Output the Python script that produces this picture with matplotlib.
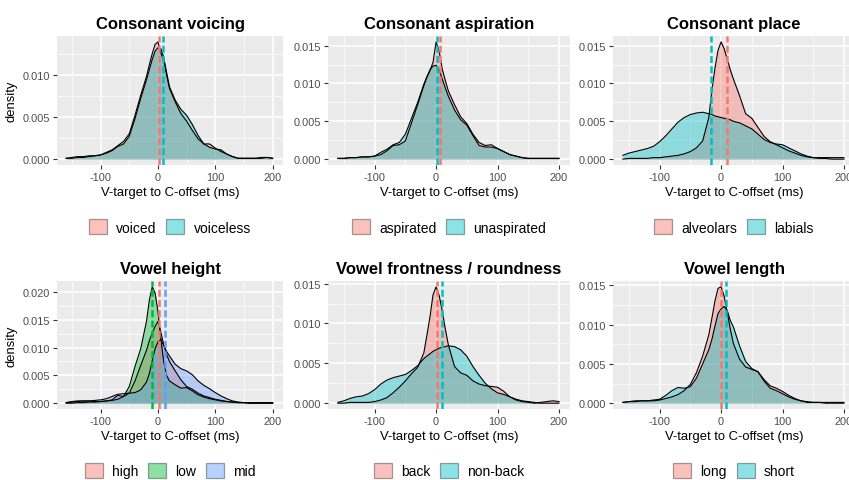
import matplotlib
matplotlib.use('Agg')
from matplotlib import pyplot as plt
from matplotlib.patches import Patch

plt.rcParams['font.family'] = ['Liberation Sans', 'DejaVu Sans']

offset_ms = [-160, -150, -140, -130, -120, -110, -100, -90, -80, -70, -60, -50, -40, -30, -20, -15, -10, -5,
             0, 5, 10, 15, 20, 30, 40, 50, 60, 70, 80, 90, 100, 110, 120, 130, 140, 150, 160, 170, 180, 190, 200]

# Consonant voicing
voiced = [0.0001, 0.0002, 0.0003, 0.0003, 0.0004, 0.0004, 0.0005, 0.0008, 0.0011, 0.0016, 0.0021, 0.0030, 0.0052,
          0.0076, 0.0098, 0.0112, 0.0125, 0.0136, 0.0139, 0.0126, 0.0117, 0.0100, 0.0084, 0.0068, 0.0054, 0.0045,
          0.0034, 0.0024, 0.0018, 0.0018, 0.0013, 0.0009, 0.0006, 0.0003, 0.0001, 0.0001, 0.0001, 0.0001, 0.0002,
          0.0002, 0.0001]
voiceless = [0.0001, 0.0001, 0.0002, 0.0002, 0.0003, 0.0004, 0.0005, 0.0007, 0.0010, 0.0015, 0.0018, 0.0027, 0.0048,
             0.0072, 0.0094, 0.0106, 0.0118, 0.0128, 0.0132, 0.0131, 0.0121, 0.0103, 0.0086, 0.0070, 0.0059, 0.0052,
             0.0041, 0.0028, 0.0018, 0.0014, 0.0012, 0.0011, 0.0006, 0.0003, 0.0001, 0.0001, 0.0001, 0.0001, 0.0001,
             0.0002, 0.0001]
# Consonant aspiration
aspirated = [0.0001, 0.0001, 0.0002, 0.0002, 0.0003, 0.0003, 0.0004, 0.0006, 0.0011, 0.0018, 0.0019, 0.0024, 0.0048,
             0.0072, 0.0097, 0.0108, 0.0117, 0.0128, 0.0155, 0.0143, 0.0119, 0.0104, 0.0090, 0.0072, 0.0056, 0.0047,
             0.0033, 0.0022, 0.0018, 0.0019, 0.0014, 0.0010, 0.0006, 0.0004, 0.0002, 0.0001, 0.0001, 0.0001, 0.0001,
             0.0001, 0.0001]
unaspirated = [0.0001, 0.0001, 0.0002, 0.0002, 0.0003, 0.0003, 0.0004, 0.0009, 0.0013, 0.0019, 0.0022, 0.0033, 0.0054,
               0.0075, 0.0099, 0.0109, 0.0118, 0.0123, 0.0124, 0.0118, 0.0106, 0.0094, 0.0083, 0.0065, 0.0052, 0.0045,
               0.0031, 0.0018, 0.0016, 0.0016, 0.0014, 0.0010, 0.0006, 0.0004, 0.0002, 0.0001, 0.0001, 0.0001, 0.0001,
               0.0001, 0.0001]
# Consonant place
alveolars = [0.0000, 0.0001, 0.0001, 0.0001, 0.0001, 0.0002, 0.0002, 0.0003, 0.0004, 0.0005, 0.0007, 0.0010, 0.0015,
             0.0024, 0.0055, 0.0091, 0.0120, 0.0144, 0.0155, 0.0146, 0.0132, 0.0118, 0.0106, 0.0084, 0.0060, 0.0054,
             0.0042, 0.0030, 0.0023, 0.0019, 0.0015, 0.0011, 0.0008, 0.0005, 0.0003, 0.0002, 0.0002, 0.0002, 0.0002,
             0.0002, 0.0002]
labials = [0.0005, 0.0008, 0.0010, 0.0012, 0.0014, 0.0017, 0.0023, 0.0031, 0.0040, 0.0049, 0.0055, 0.0059, 0.0061,
           0.0062, 0.0060, 0.0059, 0.0057, 0.0056, 0.0055, 0.0054, 0.0053, 0.0052, 0.0050, 0.0048, 0.0044, 0.0040,
           0.0033, 0.0026, 0.0022, 0.0020, 0.0019, 0.0015, 0.0011, 0.0007, 0.0004, 0.0002, 0.0001, 0.0001, 0.0000,
           0.0000, 0.0000]
# Vowel height
high = [0.0001, 0.0003, 0.0004, 0.0004, 0.0004, 0.0003, 0.0003, 0.0004, 0.0006, 0.0014, 0.0012, 0.0018, 0.0040,
        0.0068, 0.0095, 0.0112, 0.0126, 0.0138, 0.0147, 0.0128, 0.0105, 0.0088, 0.0075, 0.0058, 0.0042, 0.0030,
        0.0025, 0.0018, 0.0013, 0.0010, 0.0007, 0.0005, 0.0003, 0.0002, 0.0001, 0.0001, 0.0000, 0.0000, 0.0000,
        0.0000, 0.0000]
low = [0.0000, 0.0000, 0.0001, 0.0001, 0.0002, 0.0002, 0.0003, 0.0004, 0.0005, 0.0007, 0.0012, 0.0030, 0.0066,
       0.0098, 0.0147, 0.0185, 0.0209, 0.0198, 0.0165, 0.0115, 0.0075, 0.0050, 0.0040, 0.0033, 0.0027, 0.0028,
       0.0022, 0.0015, 0.0011, 0.0008, 0.0006, 0.0004, 0.0003, 0.0002, 0.0001, 0.0001, 0.0000, 0.0000, 0.0000,
       0.0000, 0.0000]
mid = [0.0001, 0.0002, 0.0003, 0.0004, 0.0004, 0.0005, 0.0006, 0.0008, 0.0012, 0.0016, 0.0017, 0.0018, 0.0019,
       0.0024, 0.0038, 0.0053, 0.0076, 0.0098, 0.0110, 0.0114, 0.0104, 0.0093, 0.0085, 0.0070, 0.0062, 0.0058,
       0.0051, 0.0040, 0.0032, 0.0026, 0.0019, 0.0013, 0.0008, 0.0004, 0.0002, 0.0001, 0.0001, 0.0001, 0.0001,
       0.0001, 0.0001]
# Vowel frontness / roundness
back = [0.0000, 0.0000, 0.0001, 0.0001, 0.0001, 0.0001, 0.0002, 0.0004, 0.0007, 0.0013, 0.0020, 0.0028, 0.0037,
        0.0045, 0.0063, 0.0085, 0.0108, 0.0136, 0.0146, 0.0135, 0.0116, 0.0093, 0.0073, 0.0046, 0.0038, 0.0035,
        0.0028, 0.0024, 0.0022, 0.0021, 0.0020, 0.0015, 0.0008, 0.0004, 0.0002, 0.0001, 0.0000, 0.0001, 0.0002,
        0.0003, 0.0002]
non_back = [0.0001, 0.0003, 0.0006, 0.0008, 0.0009, 0.0012, 0.0017, 0.0024, 0.0029, 0.0032, 0.0034, 0.0036, 0.0041,
            0.0047, 0.0056, 0.0059, 0.0062, 0.0065, 0.0067, 0.0069, 0.0070, 0.0071, 0.0072, 0.0071, 0.0067, 0.0059,
            0.0046, 0.0035, 0.0025, 0.0018, 0.0013, 0.0011, 0.0008, 0.0005, 0.0003, 0.0002, 0.0001, 0.0000, 0.0000,
            0.0000, 0.0000]
# Vowel length
long_v = [0.0001, 0.0002, 0.0002, 0.0003, 0.0003, 0.0003, 0.0004, 0.0006, 0.0008, 0.0011, 0.0016, 0.0024, 0.0039,
          0.0060, 0.0087, 0.0108, 0.0130, 0.0146, 0.0148, 0.0136, 0.0115, 0.0094, 0.0076, 0.0056, 0.0046, 0.0043,
          0.0040, 0.0030, 0.0022, 0.0019, 0.0015, 0.0010, 0.0006, 0.0003, 0.0002, 0.0001, 0.0001, 0.0001, 0.0001,
          0.0001, 0.0001]
short_v = [0.0001, 0.0002, 0.0003, 0.0003, 0.0003, 0.0004, 0.0005, 0.0010, 0.0016, 0.0020, 0.0019, 0.0021, 0.0032,
           0.0050, 0.0068, 0.0081, 0.0098, 0.0114, 0.0120, 0.0123, 0.0118, 0.0105, 0.0097, 0.0073, 0.0053, 0.0044,
           0.0040, 0.0028, 0.0019, 0.0016, 0.0012, 0.0008, 0.0005, 0.0003, 0.0001, 0.0001, 0.0001, 0.0000, 0.0000,
           0.0000, 0.0000]

# group means (dashed lines)
means_voicing = [2, 8]
means_aspiration = [6, 2]
means_place = [10, -17]
means_height = [1, -10, 13]
means_front = [2, 9]
means_length = [0, 8]

titles = ['Consonant voicing', 'Consonant aspiration', 'Consonant place',
          'Vowel height', 'Vowel frontness / roundness', 'Vowel length']
group_labels = [['voiced', 'voiceless'], ['aspirated', 'unaspirated'], ['alveolars', 'labials'],
                ['high', 'low', 'mid'], ['back', 'non-back'], ['long', 'short']]
series = [[voiced, voiceless], [aspirated, unaspirated], [alveolars, labials],
          [high, low, mid], [back, non_back], [long_v, short_v]]
means = [means_voicing, means_aspiration, means_place, means_height, means_front, means_length]

two_cols = ['#F8766D', '#00BFC4']
three_cols = ['#F8766D', '#00BA38', '#619CFF']

W, H = 849, 481
fig = plt.figure(figsize=(W / 100, H / 100), dpi=100)

# panel boxes in pixels: left, right, top, bottom (third column runs past the edge, as in the original)
col_px = [(57, 283), (328, 570), (613, 855)]
row_px = [(37, 166), (282, 410)]

for i in range(6):
    r, c = divmod(i, 3)
    l, rr = col_px[c]
    t, b = row_px[r]
    ax = fig.add_axes([l / W, 1 - b / H, (rr - l) / W, (b - t) / H])
    ax.set_facecolor('#EBEBEB')
    for s in ax.spines.values():
        s.set_visible(False)

    cols = three_cols if len(series[i]) == 3 else two_cols
    for y, col in zip(series[i], cols):
        ax.fill_between(offset_ms, 0, y, color=col, alpha=0.4, lw=0, zorder=2)
        ax.plot(offset_ms, y, color='black', lw=0.8, zorder=3)
    for m, col in zip(means[i], cols):
        ax.axvline(m, color=col, lw=1.8, ls=(0, (2.8, 1.3)), zorder=4)

    ymax = max(max(y) for y in series[i])
    ax.set_ylim(-0.05 * ymax, 1.05 * ymax)
    ax.set_xlim(-176, 218)

    yt = [k * 0.005 for k in range(5) if k * 0.005 <= 1.05 * ymax]
    ax.set_yticks(yt)
    ax.set_yticklabels(['%.3f' % v for v in yt])
    ax.set_yticks([v + 0.0025 for v in yt if v + 0.0025 <= 1.05 * ymax], minor=True)
    ax.set_xticks([-100, 0, 100, 200])
    ax.set_xticklabels(['-100', '0', '100', '200'])
    ax.set_xticks([-150, -50, 50, 150], minor=True)

    ax.grid(which='major', color='white', lw=1.1)
    ax.grid(which='minor', color='white', lw=0.5)
    ax.set_axisbelow(True)
    ax.tick_params(which='major', length=3, width=0.8, color='#333333', labelcolor='#4D4D4D',
                   labelsize=7.9, pad=2)
    ax.tick_params(which='minor', length=0)

    ax.set_title(titles[i], fontsize=12, fontweight='bold', pad=6)
    ax.set_xlabel('V-target to C-offset (ms)', fontsize=9.4, labelpad=3)
    if c == 0:
        ax.set_ylabel('density', fontsize=9.4, labelpad=4)

    handles = [Patch(facecolor=col, alpha=0.45, edgecolor='#333333', lw=0.9) for col in cols]
    ax.legend(handles, group_labels[i], loc='center', bbox_to_anchor=(0.5, -0.48), ncol=len(cols),
              frameon=False, fontsize=10, handlelength=1.3, handleheight=1.3, handletextpad=0.65,
              columnspacing=0.7, borderaxespad=0)

fig.savefig('out.png', dpi=100)
